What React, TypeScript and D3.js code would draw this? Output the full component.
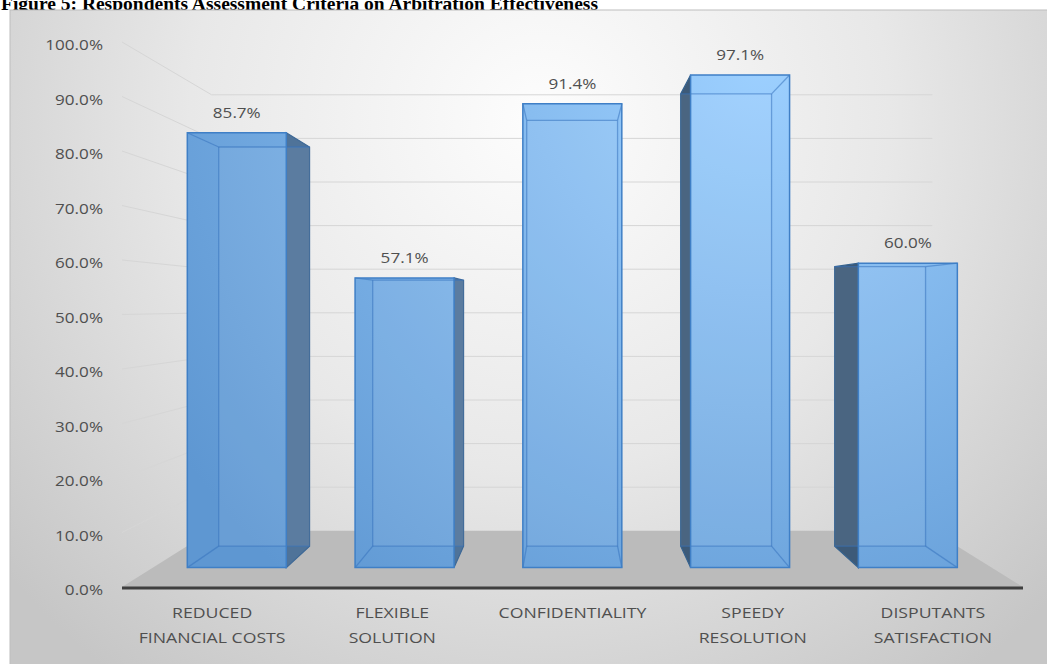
import React from "react";
import * as d3 from "d3";

const W = 1047;
const H = 664;

const categories = [
  "REDUCED\nFINANCIAL COSTS",
  "FLEXIBLE\nSOLUTION",
  "CONFIDENTIALITY",
  "SPEEDY\nRESOLUTION",
  "DISPUTANTS\nSATISFACTION",
];
const values = [85.7, 57.1, 91.4, 97.1, 60.0];
const yTicks = [0, 10, 20, 30, 40, 50, 60, 70, 80, 90, 100];

const title = "Figure 5: Respondents Assessment Criteria on Arbitration Effectiveness";

// Perspective set-up: vanishing point and how much the back wall shrinks.
const VX = 570;
const VY = 306;
const SHRINK = 0.2;
// Depth (0 = front edge of the floor, 1 = back wall) of the bar faces.
const Z_FRONT = 0.345;
const Z_BACK = 0.727;

const x = d3
  .scaleBand<string>()
  .domain(categories)
  .range([122, 1023])
  .paddingInner(0.41)
  .paddingOuter(0.205);
const y = d3.scaleLinear().domain([0, 100]).range([587, 42]);

type Pt = [number, number];
function project(px: number, py: number, z: number): Pt {
  const s = 1 - SHRINK * z;
  return [VX + s * (px - VX), VY + s * (py - VY)];
}
const poly = (pts: Pt[]) => pts.map((p) => p.join(",")).join(" ");
const fmt = d3.format(".1f");

const FONT = "'Open Sans', 'Noto Sans', sans-serif";
const TEXT = "#4f4f4f";
const SX = 1.22; // horizontal stretch of the chart text

function Bar({ cat, v }: { cat: string; v: number }) {
  const x0 = x(cat)!;
  const x1 = x0 + x.bandwidth();
  const yt = y(v);
  const yb = y(0);
  const fTL = project(x0, yt, Z_FRONT);
  const fTR = project(x1, yt, Z_FRONT);
  const fBL = project(x0, yb, Z_FRONT);
  const fBR = project(x1, yb, Z_FRONT);
  const bTL = project(x0, yt, Z_BACK);
  const bTR = project(x1, yt, Z_BACK);
  const bBL = project(x0, yb, Z_BACK);
  const bBR = project(x1, yb, Z_BACK);

  const rightVisible = x1 < VX;
  const leftVisible = x0 > VX;

  const hidden: [Pt, Pt][] = [];
  hidden.push([bTL, bTR], [bBL, bBR]);
  if (!rightVisible) hidden.push([bTR, bBR], [fTR, bTR], [fBR, bBR]);
  if (!leftVisible) hidden.push([bTL, bBL], [fTL, bTL], [fBL, bBL]);

  const label = project((x0 + x1) / 2, yt, Z_FRONT);

  return (
    <g>
      {rightVisible && (
        <polygon
          points={poly([fTR, bTR, bBR, fBR])}
          fill="#4f7399"
          stroke="#3d6896"
          strokeWidth={1.2}
        />
      )}
      {leftVisible && (
        <polygon
          points={poly([bTL, fTL, fBL, bBL])}
          fill="#3d5a78"
          stroke="#35628f"
          strokeWidth={1.2}
        />
      )}
      <polygon points={poly([fTL, fTR, fBR, fBL])} fill="url(#barFill)" />
      <polygon points={poly([bTL, bTR, bBR, bBL])} fill="rgba(255,255,255,0.07)" />
      {hidden.map(([a, b], i) => (
        <line
          key={i}
          x1={a[0]}
          y1={a[1]}
          x2={b[0]}
          y2={b[1]}
          stroke="rgba(55,115,190,0.55)"
          strokeWidth={1.3}
        />
      ))}
      <polygon
        points={poly([fTL, fTR, fBR, fBL])}
        fill="none"
        stroke="#3f7fc6"
        strokeWidth={1.5}
      />
      <text
        transform={`translate(${label[0]},${label[1] - 15}) scale(${SX},1)`}
        textAnchor="middle"
        fontFamily={FONT}
        fontSize={14}
        fill={TEXT}
      >
        {fmt(v)}%
      </text>
    </g>
  );
}

export default function App() {
  const floor: Pt[] = [
    project(122, y(0), 0),
    project(1023, y(0), 0),
    project(1023, y(0), 1),
    project(122, y(0), 1),
  ];
  return (
    <svg
      width={W}
      height={H}
      style={{ position: "absolute", left: 0, top: 0, background: "#fff" }}
    >
      <defs>
        <radialGradient id="bg" gradientUnits="userSpaceOnUse" cx={540} cy={120} r={700}>
          <stop offset="0" stopColor="#fdfdfd" />
          <stop offset="0.5" stopColor="#e8e8e8" />
          <stop offset="1" stopColor="#c6c6c6" />
        </radialGradient>
        <radialGradient id="barFill" gradientUnits="userSpaceOnUse" cx={760} cy={60} r={700}>
          <stop offset="0" stopColor="#9dd0ff" />
          <stop offset="1" stopColor="#5e97d2" />
        </radialGradient>
      </defs>

      <text
        x={1}
        y={10}
        fontFamily="'Liberation Serif', 'Times New Roman', serif"
        fontWeight="bold"
        fontSize={19.5}
        fill="#000"
      >
        {title}
      </text>

      <rect x={10} y={10} width={W} height={H} fill="url(#bg)" stroke="#bdbdbd" strokeWidth={1} />

      {/* floor */}
      <polygon points={poly(floor)} fill="#bbbbbb" />

      {/* side-wall and back-wall gridlines */}
      {yTicks
        .filter((t) => t > 0)
        .map((t) => {
          const a = project(122, y(t), 0);
          const b = project(122, y(t), 1);
          const c = project(1023, y(t), 1);
          return (
            <polyline
              key={t}
              points={poly([a, b, c])}
              fill="none"
              stroke="#d6d6d6"
              strokeWidth={1}
            />
          );
        })}

      {/* front axis line */}
      <line x1={122} x2={1023} y1={y(0) + 1} y2={y(0) + 1} stroke="#3f3f3f" strokeWidth={3} />

      {/* y tick labels */}
      {yTicks.map((t) => (
        <text
          key={t}
          transform={`translate(103,${y(t) + 8}) scale(${SX},1)`}
          textAnchor="end"
          fontFamily={FONT}
          fontSize={14}
          fill={TEXT}
        >
          {fmt(t)}%
        </text>
      ))}

      {/* bars */}
      {categories.map((c, i) => (
        <Bar key={c} cat={c} v={values[i]} />
      ))}

      {/* category labels */}
      {categories.map((c) => {
        const cx = x(c)! + x.bandwidth() / 2;
        return c.split("\n").map((line, j) => (
          <text
            key={c + j}
            transform={`translate(${cx},${618 + j * 25}) scale(${SX},1)`}
            textAnchor="middle"
            fontFamily={FONT}
            fontSize={14.5}
            fill={TEXT}
          >
            {line}
          </text>
        ));
      })}
    </svg>
  );
}
